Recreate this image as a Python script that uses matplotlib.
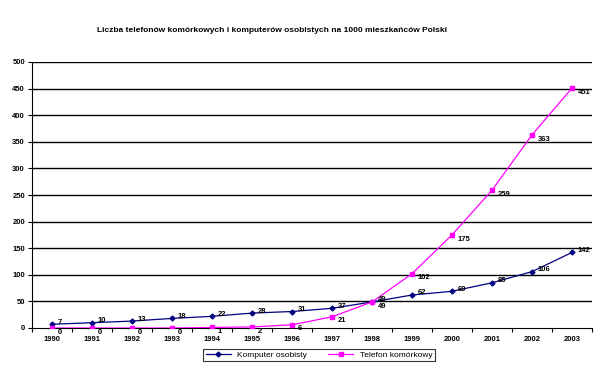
import matplotlib
matplotlib.use("Agg")
import matplotlib.pyplot as plt
import numpy as np

plt.rcParams['font.family'] = ['Liberation Sans', 'DejaVu Sans']

years = [1990, 1991, 1992, 1993, 1994, 1995, 1996, 1997, 1998, 1999, 2000, 2001, 2002, 2003]
komputer = [7, 10, 13, 18, 22, 28, 31, 37, 49, 62, 69, 85, 106, 142]
telefon = [0, 0, 0, 0, 1, 2, 6, 21, 49, 102, 175, 259, 363, 451]
y_ticks = [0, 50, 100, 150, 200, 250, 300, 350, 400, 450, 500]

fig = plt.figure(figsize=(6.03, 3.75), dpi=100)
ax = fig.add_axes([32 / 603, 1 - 328 / 375, 560 / 603, 266 / 375])

x = np.arange(len(years))

# horizontal gridlines
for t in y_ticks[1:]:
    ax.axhline(t, color='black', lw=1.0, zorder=1)

ax.plot(x, komputer, color='#000080', lw=0.9, marker='D', ms=2.5,
        label='Komputer osobisty', zorder=3)
ax.plot(x, telefon, color='#FF00FF', lw=0.9, marker='s', ms=3,
        label='Telefon komórkowy', zorder=3)

# data labels: komputer slightly above, telefon slightly below the point
for xi, v in zip(x, komputer):
    ax.annotate(str(v), (xi, v), xytext=(4, 1.5), textcoords='offset points',
                fontsize=5.5, fontweight='bold', va='center', ha='left', zorder=4)
for xi, v in zip(x, telefon):
    ax.annotate(str(v), (xi, v), xytext=(4, -3), textcoords='offset points',
                fontsize=5.5, fontweight='bold', va='center', ha='left', zorder=4)

ax.set_xlim(-0.5, len(years) - 0.5)
ax.set_ylim(0, 500)
ax.set_yticks(y_ticks)
ax.set_yticklabels([str(t) for t in y_ticks], fontsize=5.5, fontweight='bold')
ax.set_xticks(x)
ax.set_xticklabels([str(y) for y in years], fontsize=5.5, fontweight='bold')
ax.tick_params(axis='x', length=0, pad=6)
ax.set_xticks(np.arange(-0.5, len(years)), minor=True)
ax.tick_params(axis='x', which='minor', length=3, width=0.8, direction='out')
ax.tick_params(axis='y', length=3, width=0.8, pad=2)

for s in ['top', 'right']:
    ax.spines[s].set_visible(False)
ax.spines['left'].set_linewidth(0.8)
ax.spines['bottom'].set_linewidth(0.8)

fig.text(272 / 603, 1 - 31 / 375,
         'Liczba telefonów komórkowych i komputerów osobistych na 1000 mieszkańców Polski',
         ha='center', va='center', fontsize=6, fontweight='bold')

leg = fig.legend(loc='center', bbox_to_anchor=(319 / 603, 1 - 355 / 375), ncol=2,
                 fontsize=6, frameon=True, fancybox=False, edgecolor='black',
                 handlelength=3, columnspacing=2.5, borderpad=0.3)
leg.get_frame().set_linewidth(0.8)

fig.savefig('out.png', dpi=100)
